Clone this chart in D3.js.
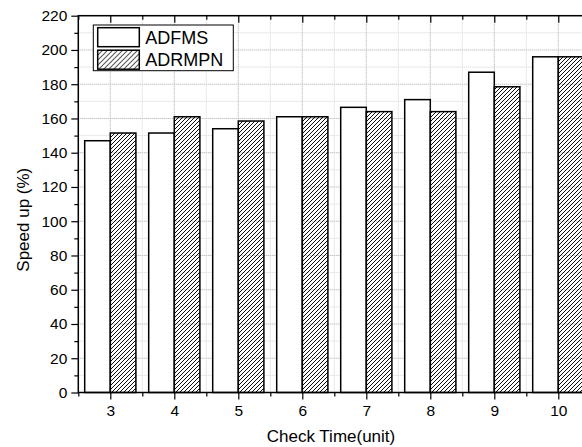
<!DOCTYPE html>
<html>
<head>
<meta charset="utf-8">
<script src="https://cdn.jsdelivr.net/npm/d3@7"></script>
<style>
  body { margin: 0; background: #fff; }
  text { font-family: "Liberation Sans", Arial, sans-serif; fill: #000; }
</style>
</head>
<body>
<svg id="chart" width="582" height="447"></svg>
<script>
// data
const checkTimes = [3, 4, 5, 6, 7, 8, 9, 10];
const adfms  = [147, 151.5, 154, 161, 166.5, 171, 187, 196];
const adrmpn = [151.5, 161, 158.5, 161, 164, 164, 178.5, 196];
const seriesNames = ['ADFMS', 'ADRMPN'];
const yTicks = [0, 20, 40, 60, 80, 100, 120, 140, 160, 180, 200, 220];
const yMinorTicks = [10, 30, 50, 70, 90, 110, 130, 150, 170, 190, 210];
const xMinorTicks = [2.5, 3.5, 4.5, 5.5, 6.5, 7.5, 8.5, 9.5, 10.5];

const _plot = {left: 78.3, right: 590.3, top: 15.7, bottom: 392.5};
const barHalf = 0.4;

let svg = d3.select('#chart');

let defs = svg.append('defs');
function addHatch(id, size, width){
  defs.append('pattern')
        .attr('id', id)
        .attr('patternUnits', 'userSpaceOnUse')
        .attr('width', size)
        .attr('height', size)
      .append('path')
        .attr('d', `M-1,1 l2,-2 M0,${size} l${size},-${size} M${size - 1},${size + 1} l2,-2`)
        .attr('stroke', '#000')
        .attr('stroke-width', width);
}
addHatch('hatch', 4, 0.95);
addHatch('hatchLegend', 5, 1);

let x = d3.scaleLinear()
          .domain([2.5, 10.5])
          .range([_plot.left, _plot.right]);
let y = d3.scaleLinear()
          .domain([0, 220])
          .range([_plot.bottom, _plot.top]);

// GRID
let grid = svg.append('g').attr('class', 'grid');
grid.selectAll('line.h')
      .data(yTicks.concat(yMinorTicks))
      .enter()
    .append('line')
      .attr('x1', _plot.left)
      .attr('x2', _plot.right)
      .attr('y1', d => y(d))
      .attr('y2', d => y(d))
      .attr('stroke', d => d % 20 === 0 ? '#a8a8a8' : '#d4d4d4')
      .attr('stroke-dasharray', '1,1');
grid.selectAll('line.v')
      .data(checkTimes.concat(xMinorTicks))
      .enter()
    .append('line')
      .attr('y1', _plot.top)
      .attr('y2', _plot.bottom)
      .attr('x1', d => x(d))
      .attr('x2', d => x(d))
      .attr('stroke', d => Number.isInteger(d) ? '#a8a8a8' : '#d4d4d4')
      .attr('stroke-dasharray', '1,1');

// BARS
let bars = svg.append('g').attr('class', 'bars');
bars.selectAll('rect.adfms')
      .data(adfms)
      .enter()
    .append('rect')
      .attr('x', (d, i) => x(checkTimes[i] - barHalf))
      .attr('y', d => y(d))
      .attr('width', (d, i) => x(checkTimes[i]) - x(checkTimes[i] - barHalf))
      .attr('height', d => y(0) - y(d))
      .attr('fill', '#fff')
      .attr('stroke', '#000')
      .attr('stroke-width', 1.5);
bars.selectAll('rect.adrmpn')
      .data(adrmpn)
      .enter()
    .append('rect')
      .attr('x', (d, i) => x(checkTimes[i]))
      .attr('y', d => y(d))
      .attr('width', (d, i) => x(checkTimes[i] + barHalf) - x(checkTimes[i]))
      .attr('height', d => y(0) - y(d))
      .attr('fill', 'url(#hatch)')
      .attr('stroke', '#000')
      .attr('stroke-width', 1.5);

// AXES
svg.append('rect')
      .attr('x', _plot.left)
      .attr('y', _plot.top)
      .attr('width', _plot.right - _plot.left)
      .attr('height', _plot.bottom - _plot.top)
      .attr('fill', 'none')
      .attr('stroke', '#000')
      .attr('stroke-width', 1.5);

function styleAxis(g){
  g.select('.domain').remove();
  g.selectAll('.tick line').attr('stroke', '#000').attr('stroke-width', 1.2);
  g.selectAll('.tick text')
     .attr('font-size', 15.5)
     .attr('font-family', '"Liberation Sans", Arial, sans-serif')
     .attr('fill', '#000');
}

svg.append('g')
     .attr('transform', `translate(0, ${_plot.bottom})`)
     .call(d3.axisBottom(x).tickValues(checkTimes).tickFormat(d3.format('d')).tickSize(7).tickPadding(5))
     .call(styleAxis);
svg.append('g')
     .attr('transform', `translate(0, ${_plot.bottom})`)
     .call(d3.axisBottom(x).tickValues(xMinorTicks).tickFormat('').tickSize(4))
     .call(styleAxis);
svg.append('g')
     .attr('transform', `translate(0, ${_plot.top})`)
     .call(d3.axisBottom(x).tickValues(checkTimes).tickFormat('').tickSize(7))
     .call(styleAxis);
svg.append('g')
     .attr('transform', `translate(0, ${_plot.top})`)
     .call(d3.axisBottom(x).tickValues(xMinorTicks).tickFormat('').tickSize(4))
     .call(styleAxis);
svg.append('g')
     .attr('transform', `translate(${_plot.left}, 0)`)
     .call(d3.axisLeft(y).tickValues(yTicks).tickSize(7).tickPadding(4))
     .call(styleAxis);
svg.append('g')
     .attr('transform', `translate(${_plot.left}, 0)`)
     .call(d3.axisLeft(y).tickValues(yMinorTicks).tickFormat('').tickSize(4))
     .call(styleAxis);

// AXIS TITLES
svg.append('text')
     .attr('x', 331)
     .attr('y', 441.5)
     .attr('text-anchor', 'middle')
     .attr('font-size', 17)
     .text('Check Time(unit)');
svg.append('text')
     .attr('transform', 'translate(28.5, 219.7) rotate(-90)')
     .attr('text-anchor', 'middle')
     .attr('font-size', 17)
     .text('Speed up (%)');

// LEGEND
let legend = svg.append('g').attr('class', 'legend');
legend.append('rect')
        .attr('x', 93.3)
        .attr('y', 25)
        .attr('width', 140)
        .attr('height', 45.7)
        .attr('fill', '#fff')
        .attr('stroke', '#000')
        .attr('stroke-width', 1);
let items = legend.selectAll('g.item')
                    .data(seriesNames)
                    .enter()
                  .append('g')
                    .attr('transform', (d, i) => `translate(97.7, ${27.7 + i * 22.5})`);
items.append('rect')
       .attr('width', 41.6)
       .attr('height', 19)
       .attr('fill', (d, i) => i === 0 ? '#fff' : 'url(#hatchLegend)')
       .attr('stroke', '#000')
       .attr('stroke-width', 1.5);
items.append('text')
       .attr('x', 47.5)
       .attr('y', 16.3)
       .attr('font-size', 18)
       .text(d => d);
</script>
</body>
</html>
